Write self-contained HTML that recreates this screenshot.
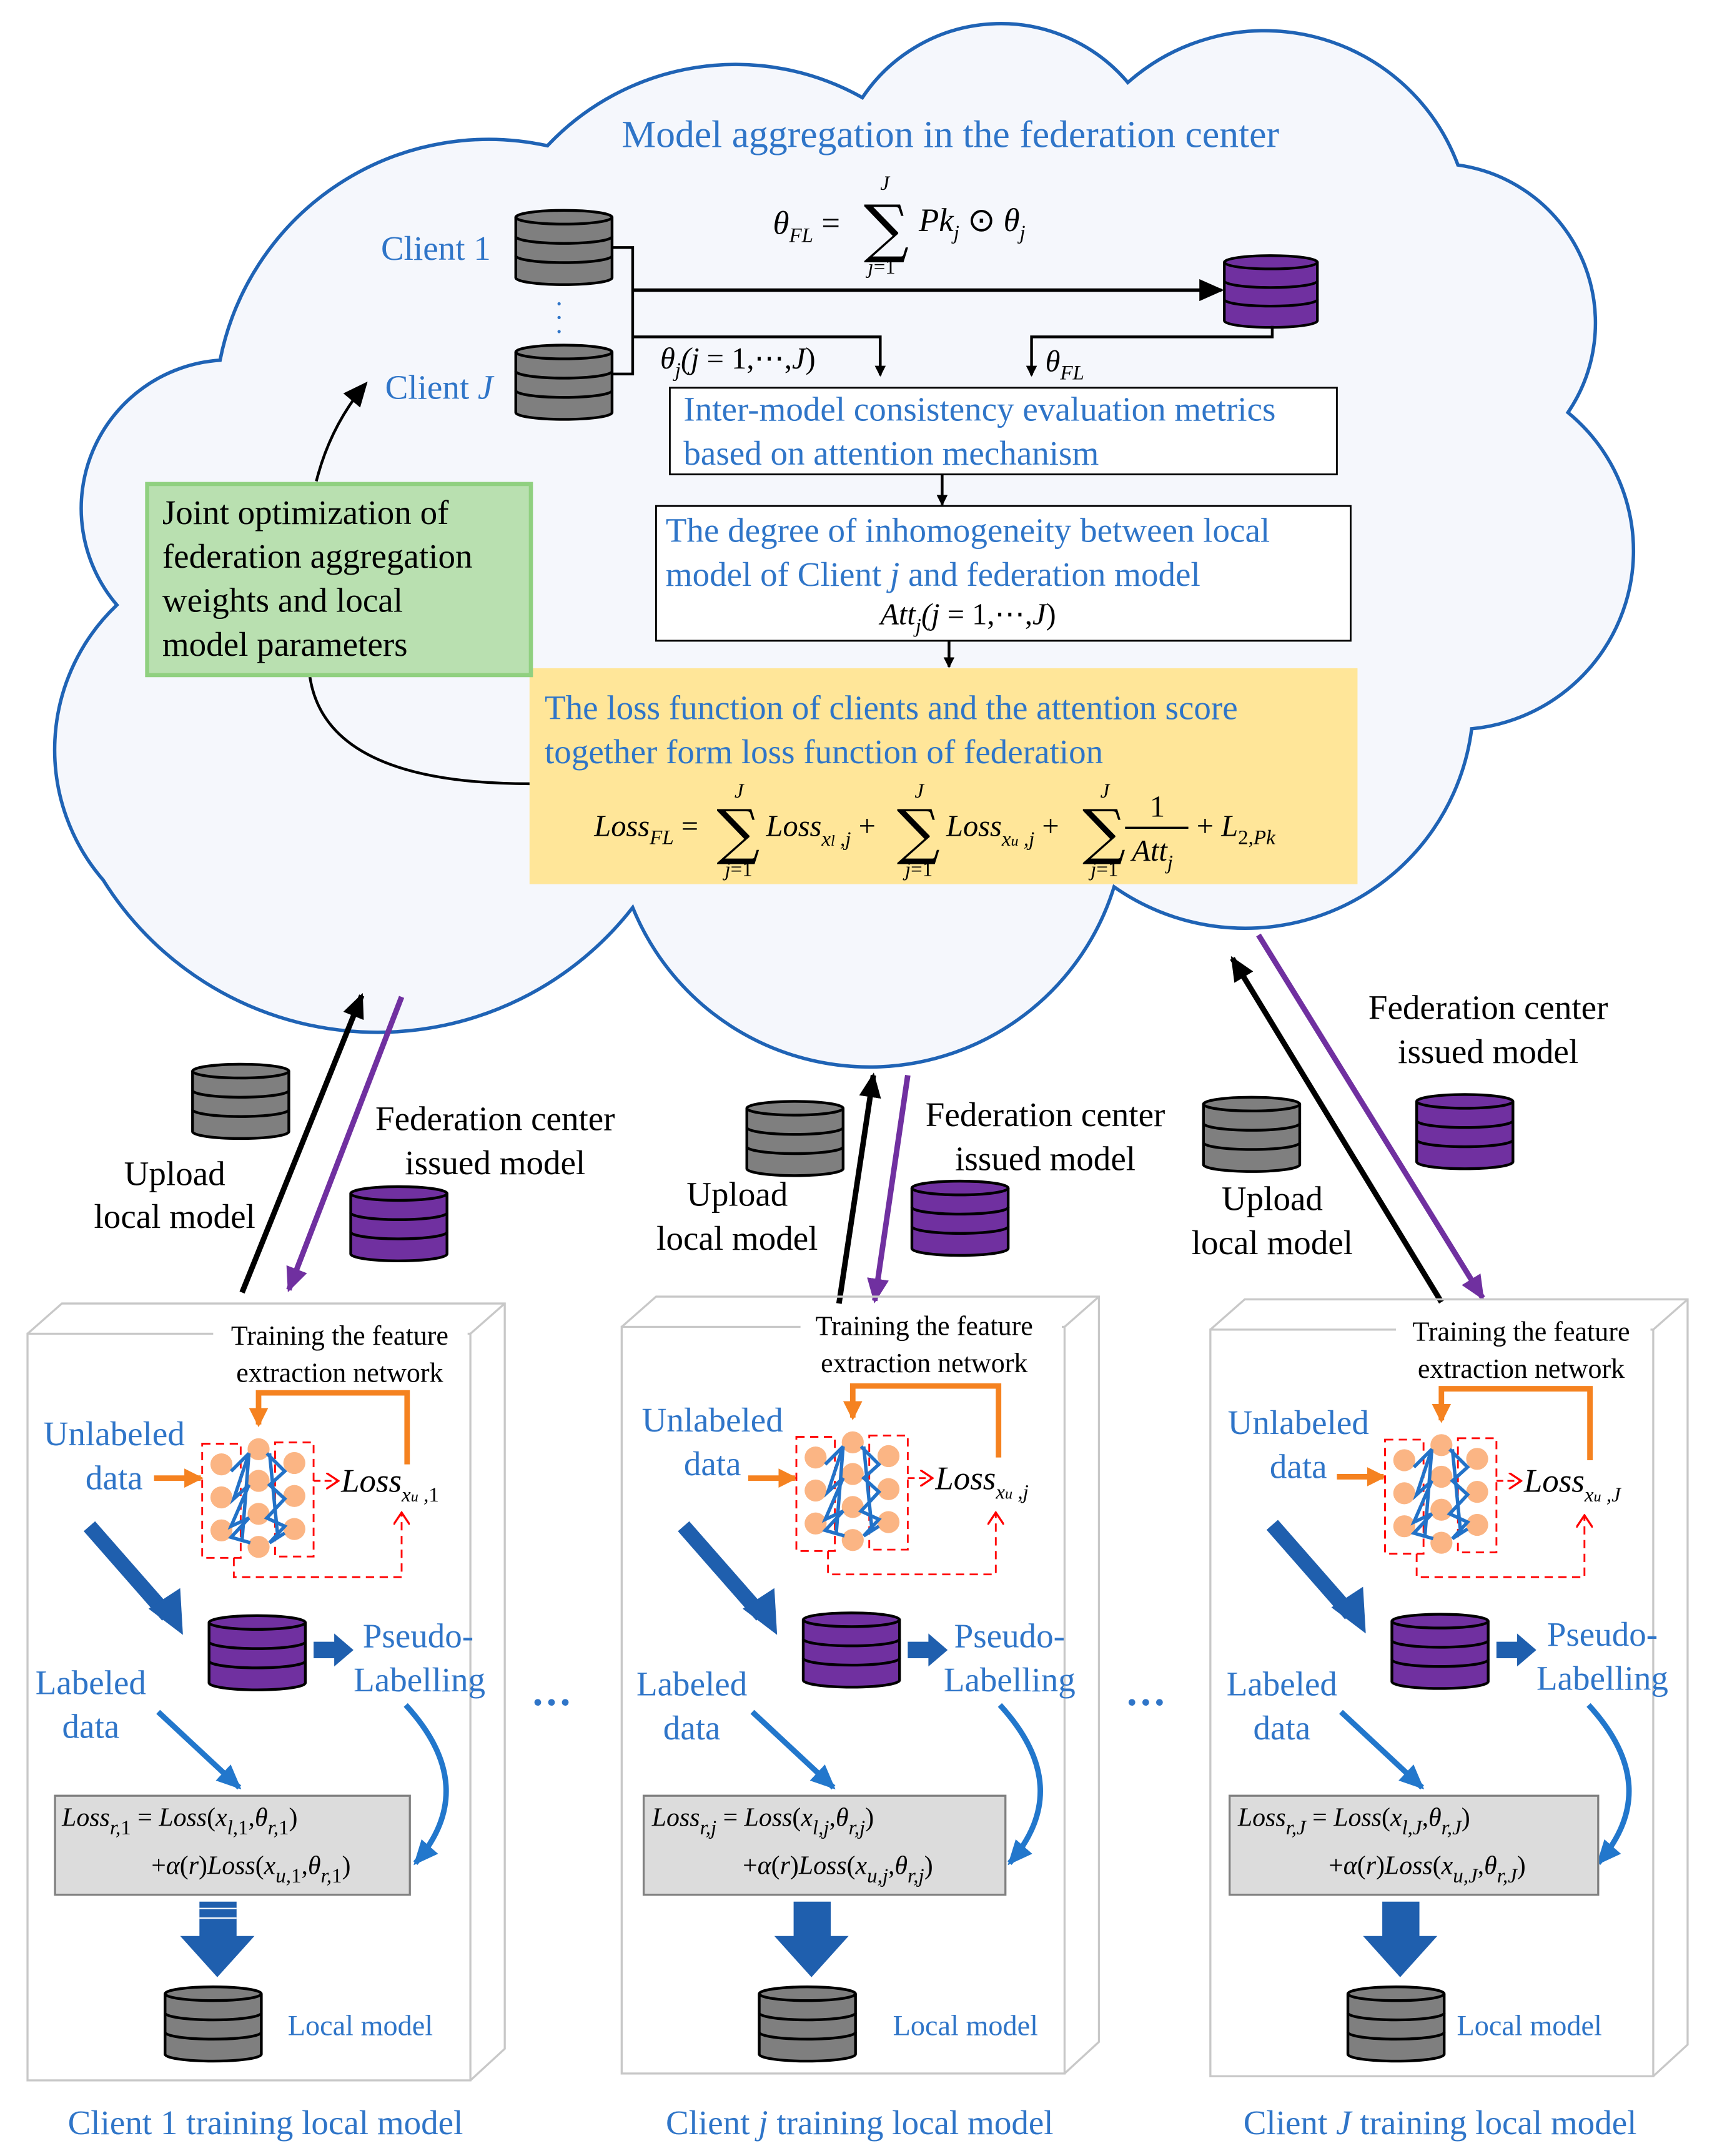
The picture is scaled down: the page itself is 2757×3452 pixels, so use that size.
<!DOCTYPE html>
<html><head><meta charset="utf-8"><style>
html,body{margin:0;padding:0;background:#fff}
svg{display:block}
.b{fill:#2f75c8;font-family:"Liberation Serif",serif;font-size:25px}
.k{fill:#000;font-family:"Liberation Serif",serif;font-size:25px}
.m{fill:#000;font-family:"Liberation Serif",serif;font-style:italic;font-size:22px}
.s{font-size:15px}
.n{font-style:normal}
</style></head><body>
<svg width="2757" height="3452" viewBox="0 0 1252 1568" preserveAspectRatio="none" xmlns="http://www.w3.org/2000/svg">
<defs>
<symbol id="dbg" viewBox="-2 -2 74 60">
<path d="M0,6 V50 A35,5 0 0 0 70,50 V6" fill="#7f7f7f" stroke="#000" stroke-width="2"/>
<ellipse cx="35" cy="6" rx="35" ry="5" fill="#7f7f7f" stroke="#000" stroke-width="2"/>
<path d="M0,20 A35,5 0 0 0 70,20 M0,34 A35,5 0 0 0 70,34" fill="none" stroke="#000" stroke-width="2"/>
</symbol>
<symbol id="dbp" viewBox="-2 -2 74 60">
<path d="M0,6 V50 A35,5 0 0 0 70,50 V6" fill="#7030a0" stroke="#000" stroke-width="2"/>
<ellipse cx="35" cy="6" rx="35" ry="5" fill="#7030a0" stroke="#000" stroke-width="2"/>
<path d="M0,20 A35,5 0 0 0 70,20 M0,34 A35,5 0 0 0 70,34" fill="none" stroke="#000" stroke-width="2"/>
</symbol>
<marker id="ak" markerWidth="8" markerHeight="8" refX="7" refY="4" orient="auto" markerUnits="userSpaceOnUse"><path d="M0,0 L8,4 L0,8z" fill="#000"/></marker>
<marker id="akb" markerWidth="18" markerHeight="16" refX="16" refY="8" orient="auto" markerUnits="userSpaceOnUse"><path d="M0,0 L18,8 L0,16z" fill="#000"/></marker>
<marker id="akp" markerWidth="18" markerHeight="16" refX="16" refY="8" orient="auto" markerUnits="userSpaceOnUse"><path d="M0,0 L18,8 L0,16z" fill="#7030a0"/></marker>
<marker id="ab" markerWidth="18" markerHeight="16" refX="16" refY="8" orient="auto" markerUnits="userSpaceOnUse"><path d="M0,0 L18,8 L0,16z" fill="#2277cc"/></marker>
<marker id="ao" markerWidth="14" markerHeight="14" refX="12" refY="7" orient="auto" markerUnits="userSpaceOnUse"><path d="M0,0 L14,7 L0,14z" fill="#f58220"/></marker>
<marker id="ar" markerWidth="10" markerHeight="12" refX="9" refY="6" orient="auto" markerUnits="userSpaceOnUse"><path d="M0,0 L9,6 L0,12" fill="none" stroke="#f00" stroke-width="1.5"/></marker>
</defs>

<!-- cloud -->
<path d="M160,262 A199,199 0 0 1 398,106 A188,188 0 0 1 627,71 A121,121 0 0 1 820,60 A150,150 0 0 1 1060,120 A116,116 0 0 1 1140,300 A130,130 0 0 1 1070,530 A166,166 0 0 1 810,645 A186,186 0 0 1 460,660 A235,235 0 0 1 75,640 A145,145 0 0 1 85,440 A108,108 0 0 1 160,262 Z" fill="#f5f7fc" stroke="#1f63b5" stroke-width="2.5"/>

<text class="b" x="452" y="107" style="font-size:28px">Model aggregation in the federation center</text>
<text class="b" x="277" y="189">Client 1</text>
<text class="b" x="280" y="290">Client <tspan font-style="italic">J</tspan></text>
<use href="#dbg" x="373" y="150" width="74" height="60"/>
<use href="#dbg" x="373" y="248" width="74" height="60"/>
<text class="b" x="404" y="222" style="font-size:20px">.</text><text class="b" x="404" y="232" style="font-size:20px">.</text><text class="b" x="404" y="242" style="font-size:20px">.</text>
<use href="#dbp" x="886" y="183" width="76" height="58"/>

<path d="M445,180 H460 V272 H445" fill="none" stroke="#000" stroke-width="2"/>
<line x1="460" y1="211" x2="888" y2="211" stroke="#000" stroke-width="2.5" marker-end="url(#akb)"/>
<path d="M460,245 H640 V273" fill="none" stroke="#000" stroke-width="2" marker-end="url(#ak)"/>
<path d="M925,237 V245 H750 V273" fill="none" stroke="#000" stroke-width="2" marker-end="url(#ak)"/>

<text class="m" x="562" y="170" style="font-size:24px">θ<tspan class="s" dy="6">FL</tspan><tspan dy="-6" class="n"> = </tspan></text>
<text x="628" y="182" style="font-family:'DejaVu Serif',serif;font-size:46px">∑</text>
<text class="m" x="640" y="138" style="font-size:15px">J</text>
<text class="m" x="631" y="199" style="font-size:15px">j<tspan class="n">=1</tspan></text>
<text class="m" x="668" y="168" style="font-size:24px">Pk<tspan class="s" dy="6">j</tspan><tspan dy="-6" class="n"> ⊙ </tspan>θ<tspan class="s" dy="6">j</tspan></text>

<text class="m" x="480" y="268" style="font-size:22px">θ<tspan class="s" dy="6">j</tspan><tspan dy="-6">(</tspan>j<tspan class="n"> = 1,⋯,</tspan>J<tspan class="n">)</tspan></text>
<text class="m" x="760" y="270" style="font-size:22px">θ<tspan class="s" dy="6">FL</tspan></text>

<rect x="487" y="282" width="485" height="63" fill="#fff" stroke="#000" stroke-width="1.3"/>
<text class="b" x="497" y="306">Inter-model consistency evaluation metrics</text>
<text class="b" x="497" y="338">based on attention mechanism</text>
<line x1="685" y1="345" x2="685" y2="367" stroke="#000" stroke-width="2" marker-end="url(#ak)"/>
<rect x="477" y="368" width="505" height="98" fill="#fff" stroke="#000" stroke-width="1.3"/>
<text class="b" x="484" y="394">The degree of inhomogeneity between local</text>
<text class="b" x="484" y="426">model of Client <tspan font-style="italic">j</tspan> and federation model</text>
<text class="m" x="640" y="454">Att<tspan class="s" dy="6">j</tspan><tspan dy="-6">(</tspan>j<tspan class="n"> = 1,⋯,</tspan>J<tspan class="n">)</tspan></text>
<line x1="690" y1="466" x2="690" y2="485" stroke="#000" stroke-width="2" marker-end="url(#ak)"/>

<rect x="385" y="486" width="602" height="157" fill="#ffe699"/>
<text class="b" x="396" y="523">The loss function of clients and the attention score</text>
<text class="b" x="396" y="555">together form loss function of federation</text>
<text class="m" x="432" y="608">Loss<tspan class="s" dy="6">FL</tspan><tspan class="n" dy="-6"> = </tspan></text>
<text x="521" y="620" style="font-family:'DejaVu Serif',serif;font-size:44px">∑</text>
<text class="m" x="534" y="580" style="font-size:15px">J</text>
<text class="m" x="527" y="637" style="font-size:15px">j<tspan class="n">=1</tspan></text>
<text class="m" x="557" y="608">Loss<tspan class="s" dy="7">x<tspan style="font-size:11px">l</tspan> ,j</tspan><tspan class="n" dy="-7"> + </tspan></text>
<text x="652" y="620" style="font-family:'DejaVu Serif',serif;font-size:44px">∑</text>
<text class="m" x="665" y="580" style="font-size:15px">J</text>
<text class="m" x="658" y="637" style="font-size:15px">j<tspan class="n">=1</tspan></text>
<text class="m" x="688" y="608">Loss<tspan class="s" dy="7">x<tspan style="font-size:11px">u</tspan> ,j</tspan><tspan class="n" dy="-7"> + </tspan></text>
<text x="787" y="620" style="font-family:'DejaVu Serif',serif;font-size:44px">∑</text>
<text class="m" x="800" y="580" style="font-size:15px">J</text>
<text class="m" x="793" y="637" style="font-size:15px">j<tspan class="n">=1</tspan></text>
<text class="m n" x="836" y="594" style="font-style:normal">1</text>
<line x1="818" y1="602" x2="864" y2="602" stroke="#000" stroke-width="1.5"/>
<text class="m" x="823" y="626">Att<tspan class="s" dy="6">j</tspan></text>
<text class="m" x="870" y="608"><tspan class="n">+ </tspan>L<tspan class="s" dy="6"><tspan class="n">2,</tspan>Pk</tspan></text>

<path d="M385,570 Q235,570 225,490" fill="none" stroke="#000" stroke-width="2"/>
<path d="M230,350 Q240,310 266,279" fill="none" stroke="#000" stroke-width="2" marker-end="url(#akb)"/>
<rect x="107" y="352" width="279" height="139" fill="#b9e0b0" stroke="#90d080" stroke-width="3"/>
<text class="k" x="118" y="381">Joint optimization of</text>
<text class="k" x="118" y="413">federation aggregation</text>
<text class="k" x="118" y="445">weights and local</text>
<text class="k" x="118" y="477">model parameters</text>

<!-- upload/issue arrows -->
<line x1="176" y1="940" x2="263" y2="724" stroke="#000" stroke-width="4" marker-end="url(#akb)"/>
<line x1="292" y1="725" x2="210" y2="938" stroke="#7030a0" stroke-width="4" marker-end="url(#akp)"/>
<line x1="610" y1="948" x2="635" y2="782" stroke="#000" stroke-width="4" marker-end="url(#akb)"/>
<line x1="660" y1="782" x2="636" y2="946" stroke="#7030a0" stroke-width="4" marker-end="url(#akp)"/>
<line x1="1048" y1="947" x2="896" y2="697" stroke="#000" stroke-width="4" marker-end="url(#akb)"/>
<line x1="915" y1="680" x2="1078" y2="944" stroke="#7030a0" stroke-width="4" marker-end="url(#akp)"/>

<use href="#dbg" x="138" y="771" width="74" height="60"/>
<text class="k" x="127" y="862" text-anchor="middle">Upload</text>
<text class="k" x="127" y="893" text-anchor="middle">local model</text>
<text class="k" x="360" y="822" text-anchor="middle">Federation center</text>
<text class="k" x="360" y="854" text-anchor="middle">issued model</text>
<use href="#dbp" x="253" y="860" width="74" height="60"/>

<use href="#dbg" x="541" y="798" width="74" height="60"/>
<text class="k" x="536" y="877" text-anchor="middle">Upload</text>
<text class="k" x="536" y="909" text-anchor="middle">local model</text>
<text class="k" x="760" y="819" text-anchor="middle">Federation center</text>
<text class="k" x="760" y="851" text-anchor="middle">issued model</text>
<use href="#dbp" x="661" y="856" width="74" height="60"/>

<use href="#dbg" x="873" y="795" width="74" height="60"/>
<text class="k" x="925" y="880" text-anchor="middle">Upload</text>
<text class="k" x="925" y="912" text-anchor="middle">local model</text>
<text class="k" x="1082" y="741" text-anchor="middle">Federation center</text>
<text class="k" x="1082" y="773" text-anchor="middle">issued model</text>
<use href="#dbp" x="1028" y="793" width="74" height="60"/>

<text class="b" x="386" y="1248" style="font-size:30px;font-weight:bold">···</text>
<text class="b" x="818" y="1248" style="font-size:30px;font-weight:bold">···</text>

<!-- panels -->
<g>
<path d="M20,970 L45,948 H367 V1490 L342,1513 M342,970 L367,948" fill="none" stroke="#c8c8c8" stroke-width="1.5"/>
<rect x="20" y="970" width="322" height="543" fill="none" stroke="#c8c8c8" stroke-width="1.5"/>
<rect x="155" y="958" width="185" height="50" fill="#fff"/>
<text class="k" x="247" y="978" text-anchor="middle" style="font-size:20px">Training the feature</text>
<text class="k" x="247" y="1005" text-anchor="middle" style="font-size:20px">extraction network</text>
<path d="M296,1065 V1013 H188 V1036" fill="none" stroke="#f58220" stroke-width="4" marker-end="url(#ao)"/>
<text class="b" x="83" y="1051" text-anchor="middle">Unlabeled</text>
<text class="b" x="83" y="1083" text-anchor="middle">data</text>
<line x1="112" y1="1075" x2="146" y2="1075" stroke="#f58220" stroke-width="4" marker-end="url(#ao)"/>
<rect x="147" y="1050" width="28" height="83" fill="none" stroke="#f00" stroke-width="1.3" stroke-dasharray="6,4"/>
<rect x="200" y="1049" width="28" height="83" fill="none" stroke="#f00" stroke-width="1.3" stroke-dasharray="6,4"/>
<g fill="#fbb584">
<circle cx="161" cy="1065" r="8"/><circle cx="161" cy="1089" r="8"/><circle cx="161" cy="1113" r="8"/>
<circle cx="188" cy="1054" r="8"/><circle cx="188" cy="1077" r="8"/><circle cx="188" cy="1101" r="8"/><circle cx="188" cy="1125" r="8"/>
<circle cx="214" cy="1064" r="8"/><circle cx="214" cy="1088" r="8"/><circle cx="214" cy="1112" r="8"/>
</g>
<path d="M168,1070 L181,1057 L170,1090 L181,1080 L168,1110 L181,1104 L168,1118 L182,1122 M194,1057 L207,1070 L196,1080 L207,1090 L194,1104 L207,1110 L196,1122 L207,1115 M181,1057 L176,1120 M196,1057 L202,1118" fill="none" stroke="#2272c8" stroke-width="2.5"/>
<line x1="228" y1="1077" x2="246" y2="1077" stroke="#f00" stroke-width="1.3" stroke-dasharray="5,3" marker-end="url(#ar)"/>
<text class="m" x="248" y="1085" style="font-size:24px">Loss<tspan class="s" dy="7">x<tspan style="font-size:11px">u</tspan> ,<tspan class="n">1</tspan></tspan></text>
<path d="M170,1133 V1147 H292 V1100" fill="none" stroke="#f00" stroke-width="1.3" stroke-dasharray="6,4" marker-end="url(#ar)"/>
<line x1="65" y1="1110" x2="122" y2="1175" stroke="#1f5fae" stroke-width="11"/>
<path d="M108,1170 L133,1189 L131,1155 Z" fill="#1f5fae"/>
<use href="#dbp" x="150" y="1170" width="74" height="64"/>
<path d="M228,1194 H243 V1188 L257,1200 L243,1212 V1206 H228 Z" fill="#1f5fae"/>
<text class="b" x="304" y="1198" text-anchor="middle">Pseudo-</text>
<text class="b" x="305" y="1230" text-anchor="middle">Labelling</text>
<text class="b" x="66" y="1232" text-anchor="middle">Labeled</text>
<text class="b" x="66" y="1264" text-anchor="middle">data</text>
<line x1="115" y1="1245" x2="174" y2="1300" stroke="#2277cc" stroke-width="4" marker-end="url(#ab)"/>
<path d="M295,1240 Q350,1300 302,1355" fill="none" stroke="#2277cc" stroke-width="4" marker-end="url(#ab)"/>
<rect x="40" y="1306" width="258" height="72" fill="#dcdcdc" stroke="#808080" stroke-width="1.5"/>
<text class="m" x="45" y="1328" style="font-size:19px">Loss<tspan class="s" dy="6">r,<tspan class="n">1</tspan></tspan><tspan class="n" dy="-6"> = </tspan>Loss<tspan class="n">(</tspan>x<tspan class="s" dy="6">l,<tspan class="n">1</tspan></tspan><tspan dy="-6" class="n">,</tspan>θ<tspan class="s" dy="6">r,<tspan class="n">1</tspan></tspan><tspan dy="-6" class="n">)</tspan></text>
<text class="m" x="110" y="1363" style="font-size:19px"><tspan class="n">+</tspan>α<tspan class="n">(</tspan>r<tspan class="n">)</tspan>Loss<tspan class="n">(</tspan>x<tspan class="s" dy="6">u,<tspan class="n">1</tspan></tspan><tspan dy="-6" class="n">,</tspan>θ<tspan class="s" dy="6">r,<tspan class="n">1</tspan></tspan><tspan dy="-6" class="n">)</tspan></text>
<path d="M145,1383 H172 V1408 H185 L158,1438 L131,1408 H145 Z" fill="#1f5fae"/>
<line x1="145" y1="1388" x2="172" y2="1388" stroke="#fff" stroke-width="1"/><line x1="145" y1="1395" x2="172" y2="1395" stroke="#fff" stroke-width="1"/>
<use href="#dbg" x="118" y="1442" width="74" height="60"/>
<text class="b" x="262" y="1480" text-anchor="middle" style="font-size:21px">Local model</text>
<text class="b" x="193" y="1552" text-anchor="middle">Client 1 training local model</text>
</g>

<g transform="translate(432,-5)">
<path d="M20,970 L45,948 H367 V1490 L342,1513 M342,970 L367,948" fill="none" stroke="#c8c8c8" stroke-width="1.5"/>
<rect x="20" y="970" width="322" height="543" fill="none" stroke="#c8c8c8" stroke-width="1.5"/>
<rect x="150" y="958" width="190" height="50" fill="#fff"/>
<text class="k" x="240" y="976" text-anchor="middle" style="font-size:20px">Training the feature</text>
<text class="k" x="240" y="1003" text-anchor="middle" style="font-size:20px">extraction network</text>
<path d="M294,1065 V1013 H188 V1036" fill="none" stroke="#f58220" stroke-width="4" marker-end="url(#ao)"/>
<text class="b" x="86" y="1046" text-anchor="middle">Unlabeled</text>
<text class="b" x="86" y="1078" text-anchor="middle">data</text>
<line x1="112" y1="1080" x2="146" y2="1080" stroke="#f58220" stroke-width="4" marker-end="url(#ao)"/>
<rect x="147" y="1050" width="28" height="83" fill="none" stroke="#f00" stroke-width="1.3" stroke-dasharray="6,4"/>
<rect x="200" y="1049" width="28" height="83" fill="none" stroke="#f00" stroke-width="1.3" stroke-dasharray="6,4"/>
<g fill="#fbb584">
<circle cx="161" cy="1065" r="8"/><circle cx="161" cy="1089" r="8"/><circle cx="161" cy="1113" r="8"/>
<circle cx="188" cy="1054" r="8"/><circle cx="188" cy="1077" r="8"/><circle cx="188" cy="1101" r="8"/><circle cx="188" cy="1125" r="8"/>
<circle cx="214" cy="1064" r="8"/><circle cx="214" cy="1088" r="8"/><circle cx="214" cy="1112" r="8"/>
</g>
<path d="M168,1070 L181,1057 L170,1090 L181,1080 L168,1110 L181,1104 L168,1118 L182,1122 M194,1057 L207,1070 L196,1080 L207,1090 L194,1104 L207,1110 L196,1122 L207,1115 M181,1057 L176,1120 M196,1057 L202,1118" fill="none" stroke="#2272c8" stroke-width="2.5"/>
<line x1="228" y1="1080" x2="246" y2="1080" stroke="#f00" stroke-width="1.3" stroke-dasharray="5,3" marker-end="url(#ar)"/>
<text class="m" x="248" y="1088" style="font-size:24px">Loss<tspan class="s" dy="7">x<tspan style="font-size:11px">u</tspan> ,j</tspan></text>
<path d="M170,1133 V1150 H292 V1105" fill="none" stroke="#f00" stroke-width="1.3" stroke-dasharray="6,4" marker-end="url(#ar)"/>
<line x1="65" y1="1115" x2="122" y2="1180" stroke="#1f5fae" stroke-width="11"/>
<path d="M108,1175 L133,1194 L131,1160 Z" fill="#1f5fae"/>
<use href="#dbp" x="150" y="1173" width="74" height="64"/>
<path d="M228,1199 H243 V1193 L257,1205 L243,1217 V1211 H228 Z" fill="#1f5fae"/>
<text class="b" x="302" y="1203" text-anchor="middle">Pseudo-</text>
<text class="b" x="302" y="1235" text-anchor="middle">Labelling</text>
<text class="b" x="71" y="1238" text-anchor="middle">Labeled</text>
<text class="b" x="71" y="1270" text-anchor="middle">data</text>
<line x1="115" y1="1250" x2="174" y2="1305" stroke="#2277cc" stroke-width="4" marker-end="url(#ab)"/>
<path d="M295,1245 Q350,1305 302,1360" fill="none" stroke="#2277cc" stroke-width="4" marker-end="url(#ab)"/>
<rect x="36" y="1311" width="263" height="72" fill="#dcdcdc" stroke="#808080" stroke-width="1.5"/>
<text class="m" x="42" y="1333" style="font-size:19px">Loss<tspan class="s" dy="6">r,j</tspan><tspan class="n" dy="-6"> = </tspan>Loss<tspan class="n">(</tspan>x<tspan class="s" dy="6">l,j</tspan><tspan dy="-6" class="n">,</tspan>θ<tspan class="s" dy="6">r,j</tspan><tspan dy="-6" class="n">)</tspan></text>
<text class="m" x="108" y="1368" style="font-size:19px"><tspan class="n">+</tspan>α<tspan class="n">(</tspan>r<tspan class="n">)</tspan>Loss<tspan class="n">(</tspan>x<tspan class="s" dy="6">u,j</tspan><tspan dy="-6" class="n">,</tspan>θ<tspan class="s" dy="6">r,j</tspan><tspan dy="-6" class="n">)</tspan></text>
<path d="M145,1388 H172 V1413 H185 L158,1443 L131,1413 H145 Z" fill="#1f5fae"/>
<use href="#dbg" x="118" y="1447" width="74" height="60"/>
<text class="b" x="270" y="1485" text-anchor="middle" style="font-size:21px">Local model</text>
<text class="b" x="193" y="1557" text-anchor="middle">Client <tspan font-style="italic">j</tspan> training local model</text>
</g>

<g transform="translate(860,-3)">
<path d="M20,970 L45,948 H367 V1490 L342,1513 M342,970 L367,948" fill="none" stroke="#c8c8c8" stroke-width="1.5"/>
<rect x="20" y="970" width="322" height="543" fill="none" stroke="#c8c8c8" stroke-width="1.5"/>
<rect x="155" y="958" width="185" height="50" fill="#fff"/>
<text class="k" x="246" y="978" text-anchor="middle" style="font-size:20px">Training the feature</text>
<text class="k" x="246" y="1005" text-anchor="middle" style="font-size:20px">extraction network</text>
<path d="M296,1065 V1013 H188 V1036" fill="none" stroke="#f58220" stroke-width="4" marker-end="url(#ao)"/>
<text class="b" x="84" y="1046" text-anchor="middle">Unlabeled</text>
<text class="b" x="84" y="1078" text-anchor="middle">data</text>
<line x1="112" y1="1077" x2="146" y2="1077" stroke="#f58220" stroke-width="4" marker-end="url(#ao)"/>
<rect x="147" y="1050" width="28" height="83" fill="none" stroke="#f00" stroke-width="1.3" stroke-dasharray="6,4"/>
<rect x="200" y="1049" width="28" height="83" fill="none" stroke="#f00" stroke-width="1.3" stroke-dasharray="6,4"/>
<g fill="#fbb584">
<circle cx="161" cy="1065" r="8"/><circle cx="161" cy="1089" r="8"/><circle cx="161" cy="1113" r="8"/>
<circle cx="188" cy="1054" r="8"/><circle cx="188" cy="1077" r="8"/><circle cx="188" cy="1101" r="8"/><circle cx="188" cy="1125" r="8"/>
<circle cx="214" cy="1064" r="8"/><circle cx="214" cy="1088" r="8"/><circle cx="214" cy="1112" r="8"/>
</g>
<path d="M168,1070 L181,1057 L170,1090 L181,1080 L168,1110 L181,1104 L168,1118 L182,1122 M194,1057 L207,1070 L196,1080 L207,1090 L194,1104 L207,1110 L196,1122 L207,1115 M181,1057 L176,1120 M196,1057 L202,1118" fill="none" stroke="#2272c8" stroke-width="2.5"/>
<line x1="228" y1="1080" x2="246" y2="1080" stroke="#f00" stroke-width="1.3" stroke-dasharray="5,3" marker-end="url(#ar)"/>
<text class="m" x="248" y="1088" style="font-size:24px">Loss<tspan class="s" dy="7">x<tspan style="font-size:11px">u</tspan> ,J</tspan></text>
<path d="M170,1133 V1150 H292 V1105" fill="none" stroke="#f00" stroke-width="1.3" stroke-dasharray="6,4" marker-end="url(#ar)"/>
<line x1="65" y1="1112" x2="122" y2="1177" stroke="#1f5fae" stroke-width="11"/>
<path d="M108,1172 L133,1191 L131,1157 Z" fill="#1f5fae"/>
<use href="#dbp" x="150" y="1172" width="74" height="64"/>
<path d="M228,1197 H243 V1191 L257,1203 L243,1215 V1209 H228 Z" fill="#1f5fae"/>
<text class="b" x="305" y="1200" text-anchor="middle">Pseudo-</text>
<text class="b" x="305" y="1232" text-anchor="middle">Labelling</text>
<text class="b" x="72" y="1236" text-anchor="middle">Labeled</text>
<text class="b" x="72" y="1268" text-anchor="middle">data</text>
<line x1="115" y1="1248" x2="174" y2="1303" stroke="#2277cc" stroke-width="4" marker-end="url(#ab)"/>
<path d="M295,1243 Q350,1303 302,1358" fill="none" stroke="#2277cc" stroke-width="4" marker-end="url(#ab)"/>
<rect x="34" y="1309" width="268" height="72" fill="#dcdcdc" stroke="#808080" stroke-width="1.5"/>
<text class="m" x="40" y="1331" style="font-size:19px">Loss<tspan class="s" dy="6">r,J</tspan><tspan class="n" dy="-6"> = </tspan>Loss<tspan class="n">(</tspan>x<tspan class="s" dy="6">l,J</tspan><tspan dy="-6" class="n">,</tspan>θ<tspan class="s" dy="6">r,J</tspan><tspan dy="-6" class="n">)</tspan></text>
<text class="m" x="106" y="1366" style="font-size:19px"><tspan class="n">+</tspan>α<tspan class="n">(</tspan>r<tspan class="n">)</tspan>Loss<tspan class="n">(</tspan>x<tspan class="s" dy="6">u,J</tspan><tspan dy="-6" class="n">,</tspan>θ<tspan class="s" dy="6">r,J</tspan><tspan dy="-6" class="n">)</tspan></text>
<path d="M145,1386 H172 V1411 H185 L158,1441 L131,1411 H145 Z" fill="#1f5fae"/>
<use href="#dbg" x="118" y="1445" width="74" height="60"/>
<text class="b" x="252" y="1483" text-anchor="middle" style="font-size:21px">Local model</text>
<text class="b" x="187" y="1555" text-anchor="middle">Client <tspan font-style="italic">J</tspan> training local model</text>
</g>
</svg>
</body></html>
